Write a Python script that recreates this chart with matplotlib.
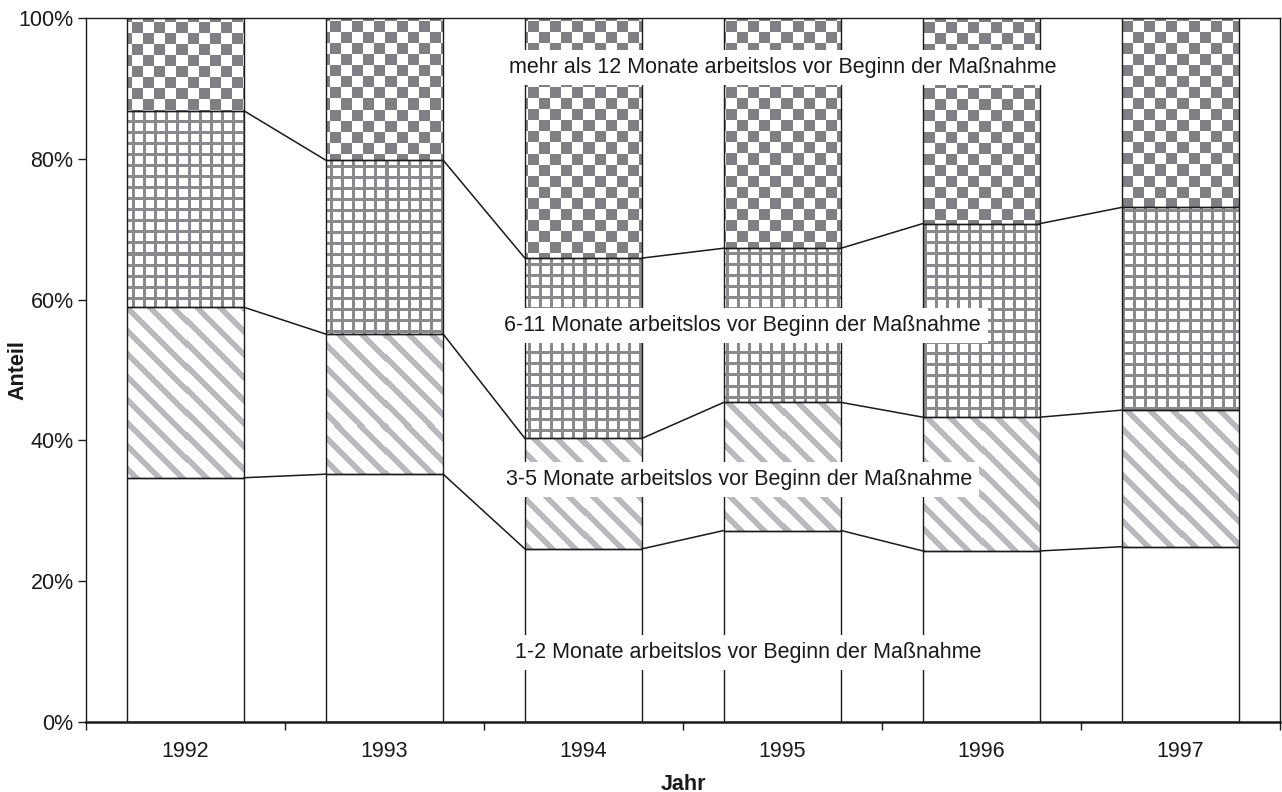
import numpy as np
import matplotlib
matplotlib.use("Agg")
import matplotlib.pyplot as plt
from matplotlib.ticker import FixedLocator

# ---- data (percent shares per year) ----
years = ['1992', '1993', '1994', '1995', '1996', '1997']
share_1_2 = [34.7, 35.2, 24.6, 27.2, 24.3, 24.9]
share_3_5 = [24.2, 19.9, 15.7, 18.2, 19.0, 19.4]
share_6_11 = [27.9, 24.7, 25.6, 21.9, 27.5, 28.8]
share_12plus = [13.2, 20.2, 34.1, 32.7, 29.2, 26.9]
labels = ['1-2 Monate arbeitslos vor Beginn der Maßnahme',
          '3-5 Monate arbeitslos vor Beginn der Maßnahme',
          '6-11 Monate arbeitslos vor Beginn der Maßnahme',
          'mehr als 12 Monate arbeitslos vor Beginn der Maßnahme']
yticks = [0, 20, 40, 60, 80, 100]
ytick_labels = ['0%', '20%', '40%', '60%', '80%', '100%']

plt.rcParams['font.family'] = ['Liberation Sans', 'DejaVu Sans']
TXT = '#1a1a1a'
FS = 15.5

W, H = 1282, 792
fig = plt.figure(figsize=(W / 100, H / 100), dpi=100)
AX_L, AX_R, AX_T, AX_B = 86, 1280, 18, 722
ax = fig.add_axes([AX_L / W, (H - AX_B) / H, (AX_R - AX_L) / W, (AX_B - AX_T) / H])

n = len(years)
x = np.arange(n)
bw = 0.59
series = [share_1_2, share_3_5, share_6_11, share_12plus]
ax.set_xlim(-0.5, n - 0.5)
ax.set_ylim(0, 100)

# ---- pixel patterns in figure pixel coordinates ----
cols = np.arange(AX_L, AX_R)[None, :]
rows = np.arange(AX_T, AX_B)[:, None]

def make_img(mask, color):
    c = np.array(color) / 255.0
    img = np.ones(mask.shape + (3,))
    img[mask] = c
    return img

checker = make_img(((cols // 11 + rows // 11) % 2) == 0, (128, 128, 132))
grid = make_img((cols % 11 < 3) | (rows % 11 < 3), (138, 138, 142))
diag = make_img(((cols - rows) % 23) < 8, (186, 186, 190))
patterns = [None, diag, grid, checker]

bottom = np.zeros(n)
tops = []
for k, vals in enumerate(series):
    vals = np.array(vals)
    bars = ax.bar(x, vals, bw, bottom=bottom, facecolor='none',
                  edgecolor='#1a1a1a', linewidth=1.0, zorder=2)
    if patterns[k] is not None:
        for patch in bars.patches:
            im = ax.imshow(patterns[k], extent=(-0.5, n - 0.5, 0, 100),
                           origin='upper', interpolation='nearest',
                           aspect='auto', zorder=1)
            im.set_clip_path(patch)
    bottom = bottom + vals
    tops.append(bottom.copy())

# series connecting lines
for cum in tops[:-1]:
    for i in range(n - 1):
        ax.plot([x[i] + bw / 2, x[i + 1] - bw / 2], [cum[i], cum[i + 1]],
                color='#1a1a1a', lw=1.1, zorder=2)

# ---- labels inside the chart ----
label_pos = [(2.83, 9.9), (2.78, 34.4), (2.80, 56.3), (3.0, 93.0)]
for (lx, ly), txt in zip(label_pos, labels):
    ax.text(lx, ly, txt, ha='center', va='center', fontsize=FS, color=TXT,
            zorder=4, bbox=dict(facecolor='white', edgecolor='none', pad=5))

# ---- axes styling ----
ax.set_ylim(0, 100)
ax.set_xlim(-0.5, n - 0.5)
ax.set_yticks(yticks)
ax.set_yticklabels(ytick_labels)
ax.xaxis.set_major_locator(FixedLocator(np.arange(-0.5, n, 1.0)))
ax.set_xticklabels([])
ax.xaxis.set_minor_locator(FixedLocator(x))
ax.set_xticklabels(years, minor=True)
ax.tick_params(axis='x', which='major', direction='out', length=6, width=1, color='#1a1a1a')
ax.tick_params(axis='x', which='minor', length=0, pad=14, labelsize=FS, labelcolor=TXT)
ax.tick_params(axis='y', direction='out', length=6, width=1, color='#1a1a1a',
               labelsize=FS, labelcolor=TXT, pad=3)
for s in ax.spines.values():
    s.set_color('#1a1a1a')
    s.set_linewidth(1.0)
ax.spines['bottom'].set_linewidth(1.8)
ax.set_ylabel('Anteil', fontsize=FS, fontweight='bold', color=TXT)
ax.yaxis.set_label_coords((18 - AX_L) / (AX_R - AX_L), 0.5)
ax.set_xlabel('Jahr', fontsize=FS, fontweight='bold', color=TXT)
ax.xaxis.set_label_coords(0.5, (AX_B - 784) / (AX_B - AX_T))
ax.xaxis.label.set_va('center')
ax.yaxis.label.set_va('center')

fig.savefig('out.png', dpi=100, facecolor='white')
